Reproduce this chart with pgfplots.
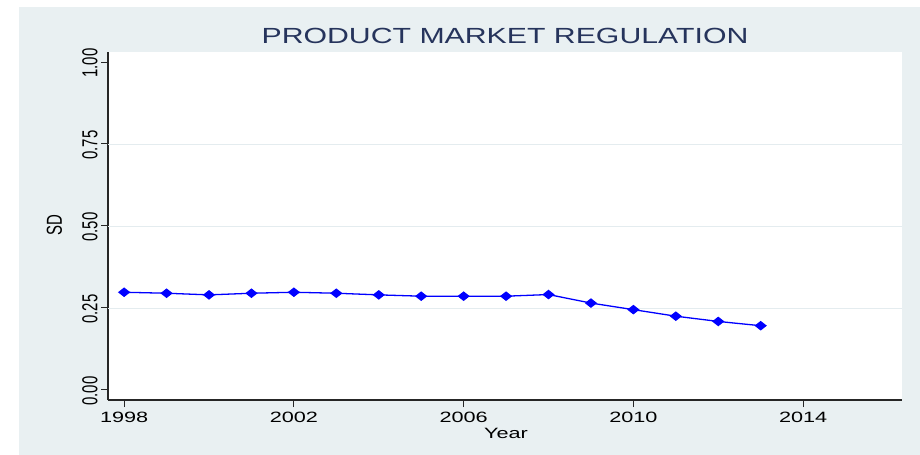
\documentclass[border=0pt]{standalone}
\usepackage{graphicx}
\usepackage{fontspec}
\setmainfont{Liberation Sans}
\usepackage{pgfplots}
\pgfplotsset{compat=1.18}
\definecolor{bgc}{RGB}{233,240,242}
\definecolor{gridc}{RGB}{228,236,239}
\definecolor{titlec}{RGB}{38,52,92}
\begin{document}
\begin{tikzpicture}
\fill[white] (0bp,0bp) rectangle (920bp,455bp);
\fill[bgc] (19bp,0bp) rectangle (920bp,448bp);
\begin{axis}[
  at={(108bp,55bp)}, anchor=south west,
  width=794bp, height=348bp, scale only axis,
  axis background/.style={fill=white},
  /pgf/number format/assume math mode=true,
  xmin=1997.62, xmax=2016.33,
  ymin=-0.0305, ymax=1.0305,
  axis lines=left, axis line style={-, line width=1.2pt, black!85},
  xtick={1998,2002,2006,2010,2014},
  ytick={0,0.25,0.5,0.75,1},
  tick align=outside, major tick length=7bp,
  tick style={line width=1pt, black!85},
  xticklabel={\scalebox{1.45}[1]{\fontsize{15}{15}\selectfont\pgfmathprintnumber[1000 sep={}]{\tick}}},
  xticklabel style={anchor=north, yshift=-2bp},
  yticklabel={\scalebox{1}[1.45]{\fontsize{15}{15}\selectfont\pgfmathprintnumber[fixed,fixed zerofill,precision=2]{\tick}}},
  yticklabel style={rotate=90, anchor=south, xshift=-1bp},
  extra y ticks={0.25,0.5,0.75},
  extra y tick labels={},
  extra y tick style={grid=major, major tick length=0pt, major grid style={gridc, line width=0.8pt}},
  clip=false,
]
\addplot[blue, line width=1.3pt, mark=diamond*, mark size=4bp, mark options={fill=blue, solid, xscale=1.7}] coordinates {
(1998,0.298) (1999,0.295) (2000,0.290) (2001,0.295) (2002,0.298)
(2003,0.295) (2004,0.290) (2005,0.286) (2006,0.286) (2007,0.286)
(2008,0.291) (2009,0.265) (2010,0.245) (2011,0.225) (2012,0.209)
(2013,0.196)
};
\end{axis}
\node[text=titlec] at (505bp,419bp) {\scalebox{1.38}[1]{\fontsize{22}{22}\selectfont PRODUCT MARKET REGULATION}};
\node at (506bp,22bp) {\scalebox{1.45}[1]{\fontsize{15}{15}\selectfont Year}};
\node[rotate=90] at (54.5bp,229.5bp) {\scalebox{1}[1.45]{\fontsize{15}{15}\selectfont SD}};
\end{tikzpicture}
\end{document}
